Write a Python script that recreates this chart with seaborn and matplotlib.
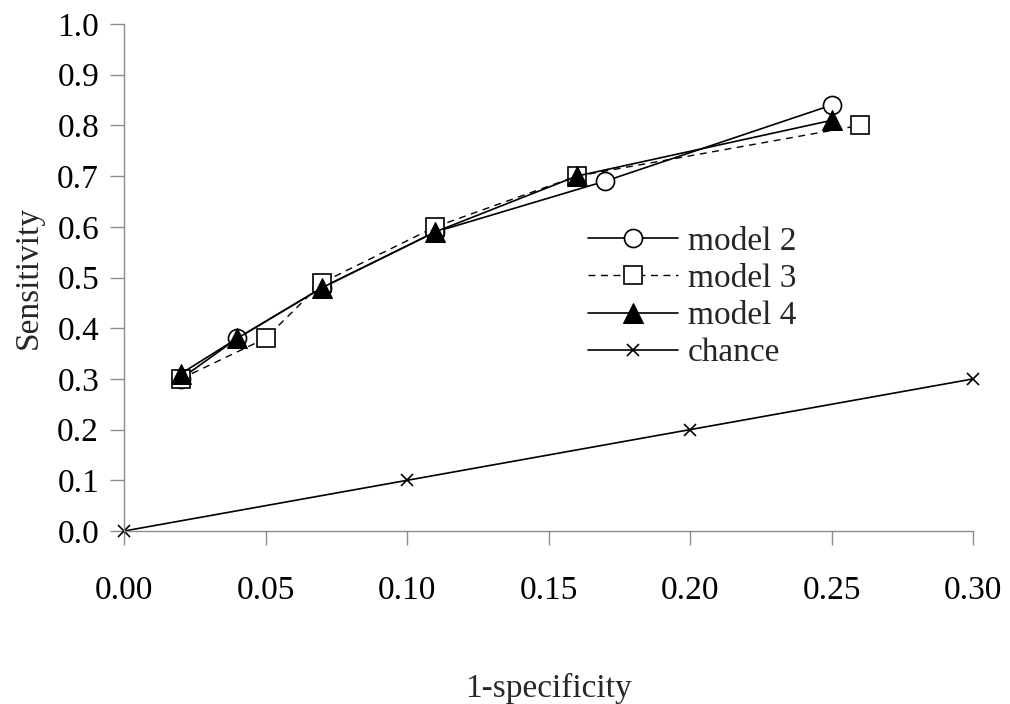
import numpy as np
import pandas as pd
import matplotlib
matplotlib.use("Agg")
import matplotlib.pyplot as plt
import seaborn as sns

# ROC points
m2_x = [0.02, 0.04, 0.07, 0.11, 0.17, 0.25]
m2_y = [0.30, 0.38, 0.48, 0.59, 0.69, 0.84]

m3_x = [0.02, 0.05, 0.07, 0.11, 0.16, 0.26]
m3_y = [0.30, 0.38, 0.49, 0.60, 0.70, 0.80]

m4_x = [0.02, 0.04, 0.07, 0.11, 0.16, 0.25]
m4_y = [0.31, 0.38, 0.48, 0.59, 0.70, 0.81]

chance_x = [0.0, 0.1, 0.2, 0.3]
chance_y = [0.0, 0.1, 0.2, 0.3]

x_ticks = [0.00, 0.05, 0.10, 0.15, 0.20, 0.25, 0.30]
y_ticks = [0.0, 0.1, 0.2, 0.3, 0.4, 0.5, 0.6, 0.7, 0.8, 0.9, 1.0]

sns.set_style("white")
plt.rcParams['font.family'] = ['Liberation Serif', 'DejaVu Serif']

fig = plt.figure(figsize=(10.1, 7.04), dpi=100)
ax = fig.add_axes([0.1228, 0.2457, 0.8406, 0.7202])

sns.lineplot(x=chance_x, y=chance_y, ax=ax, color='black', lw=1.2, marker='x',
             markersize=9, markeredgecolor='black', markeredgewidth=1.2,
             sort=False, label='chance', zorder=2, clip_on=False)
sns.lineplot(x=m2_x, y=m2_y, ax=ax, color='black', lw=1.2, marker='o',
             markersize=13, markerfacecolor='white', markeredgecolor='black',
             markeredgewidth=1.2, sort=False, label='model 2', zorder=3, clip_on=False)
sns.lineplot(x=m3_x, y=m3_y, ax=ax, color='black', lw=1.0, linestyle=(0, (5, 4)), marker='s',
             markersize=13, markerfacecolor='white', markeredgecolor='black',
             markeredgewidth=1.2, sort=False, label='model 3', zorder=4, clip_on=False)
sns.lineplot(x=m4_x, y=m4_y, ax=ax, color='black', lw=1.2, marker='^',
             markersize=14, markerfacecolor='black', markeredgecolor='black',
             sort=False, label='model 4', zorder=5, clip_on=False)

ax.set_xlim(0, 0.30)
ax.set_ylim(0, 1.0)
ax.set_xticks(x_ticks)
ax.set_xticklabels([f"{v:.2f}" for v in x_ticks])
ax.set_yticks(y_ticks)
ax.set_yticklabels([f"{v:.1f}" for v in y_ticks])

for s in ['top', 'right']:
    ax.spines[s].set_visible(False)
for s in ['left', 'bottom']:
    ax.spines[s].set_color('#8c8c8c')
    ax.spines[s].set_linewidth(1.0)
ax.tick_params(axis='both', which='major', direction='out', length=10, width=1.0,
               color='#8c8c8c', labelsize=24, labelcolor='black', pad=8, left=True, bottom=True)
ax.tick_params(axis='x', pad=22)

ax.set_xlabel('1-specificity', fontsize=24, labelpad=48)
ax.set_ylabel('Sensitivity', fontsize=24, labelpad=10)

handles, labels = ax.get_legend_handles_labels()
order = [labels.index(n) for n in ['model 2', 'model 3', 'model 4', 'chance']]
leg = ax.legend([handles[i] for i in order], [labels[i] for i in order],
                loc='upper left', bbox_to_anchor=(0.531, 0.627), frameon=False,
                fontsize=24, handlelength=2.7, handletextpad=0.3, labelspacing=0.2,
                borderaxespad=0)

fig.savefig('out.png', dpi=100)
